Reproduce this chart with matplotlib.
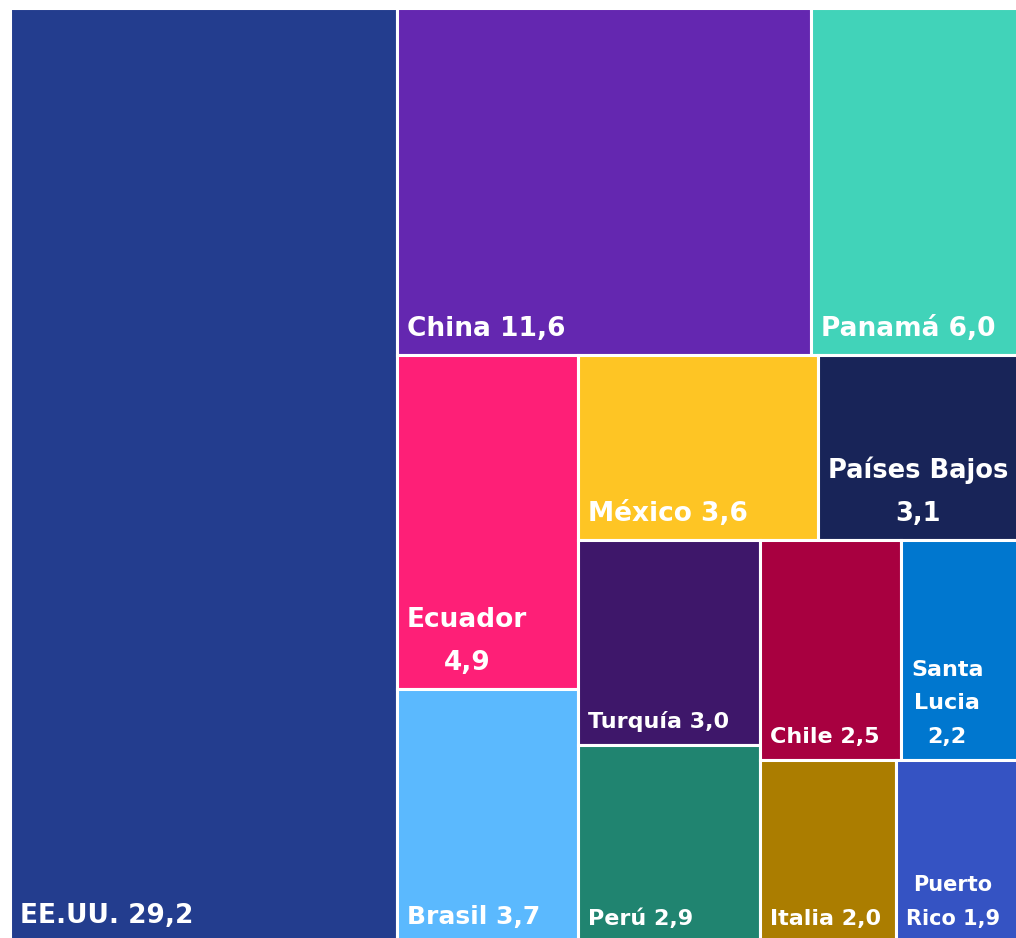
import matplotlib
matplotlib.use("Agg")
import matplotlib.pyplot as plt
from matplotlib.patches import Rectangle

# data
countries = ["EE.UU.", "China", "Panamá", "Ecuador", "Brasil", "México",
             "Países Bajos", "Turquía", "Perú", "Chile", "Santa\nLucia",
             "Italia", "Puerto\nRico"]
values = [29.2, 11.6, 6.0, 4.9, 3.7, 3.6, 3.1, 3.0, 2.9, 2.5, 2.2, 2.0, 1.9]
label_sep = [" ", " ", " ", "\n", " ", " ", "\n", " ", " ", " ", "\n", " ", " "]
colors = ["#233D8E", "#6427B0", "#41D3B9", "#FE1F77", "#5BB9FE", "#FEC524",
          "#182458", "#3E176A", "#208470", "#A80040", "#0077CF", "#AB7D00",
          "#3553C3"]
font_sizes = [19, 19, 19, 19, 18, 19, 18.5, 16, 16, 16, 16, 16, 15]
# how many boxes go in each strip of the layout
strips = [1, 2, 2, 2, 2, 2, 2]

W, H = 1015, 934  # plot area in pixels


def strip_layout(vals, groups, x, y, w, h):
    rects = []
    i = 0
    for k, n in enumerate(groups):
        grp = vals[i:i + n]
        rest = sum(vals[i:])
        s = sum(grp)
        last = k == len(groups) - 1
        if last:
            # leftover space: split along the longer side
            if w >= h:
                cx = x
                for v in grp:
                    cw = w * v / s
                    rects.append((cx, y, cw, h))
                    cx += cw
            else:
                cy = y
                for v in grp:
                    ch = h * v / s
                    rects.append((x, cy, w, ch))
                    cy += ch
        elif w >= h:
            # column on the left
            sw = w * s / rest
            cy = y
            for v in grp:
                ch = h * v / s
                rects.append((x, cy, sw, ch))
                cy += ch
            x += sw
            w -= sw
        else:
            # row on top
            sh = h * s / rest
            cx = x
            for v in grp:
                cw = w * v / s
                rects.append((cx, y, cw, sh))
                cx += cw
            y += sh
            h -= sh
        i += n
    return rects


fig = plt.figure(figsize=(10.16, 9.38), dpi=100)
ax = fig.add_axes([10 / 1016, -4 / 938, W / 1016, H / 938])
ax.set_xlim(0, W)
ax.set_ylim(H, 0)
ax.axis("off")

boxes = strip_layout(values, strips, 0, 0, W, H)
for (bx, by, bw, bh), name, v, sep, c, fs in zip(boxes, countries, values,
                                                 label_sep, colors, font_sizes):
    ax.add_patch(Rectangle((bx, by), bw, bh, facecolor=c, edgecolor="white",
                           linewidth=2.2))
    label = name + sep + f"{v:.1f}".replace(".", ",")
    ax.text(bx + 10, by + bh - 13, label, color="white", fontsize=fs,
            fontweight="bold", family="DejaVu Sans", ha="left", va="bottom",
            multialignment="center", linespacing=1.85)

fig.savefig("out.png", dpi=100)
